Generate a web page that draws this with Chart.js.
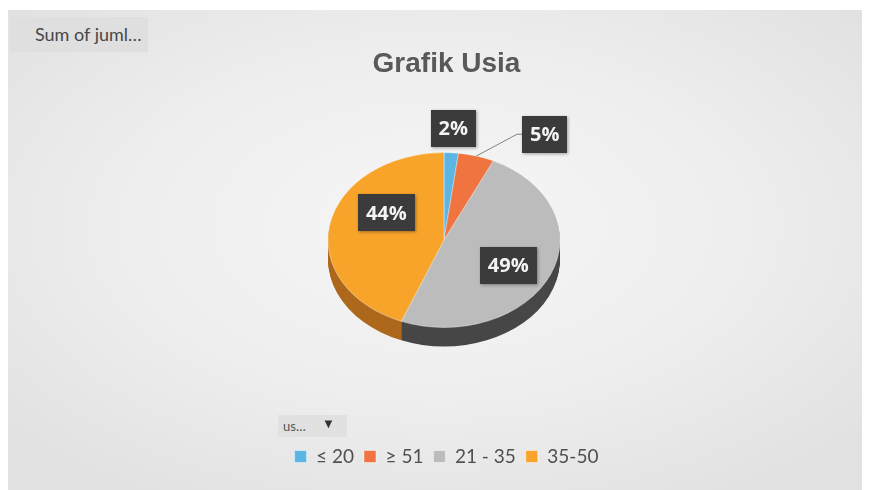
<!DOCTYPE html>
<html>
<head>
<meta charset="utf-8">
<script src="https://cdn.jsdelivr.net/npm/chart.js@4.4.1/dist/chart.umd.min.js"></script>
<style>
  html, body { margin: 0; padding: 0; background: #fff; }
  body { width: 869px; height: 490px; position: relative; overflow: hidden; font-family: Lato, sans-serif; }
  .panel {
    position: absolute; left: 8px; top: 10px; width: 854px; height: 480px;
    background: radial-gradient(ellipse 65% 65% at 50% 45%, #f6f6f6 0%, #eeeeee 55%, #e2e2e2 100%);
  }
  #chart { position: absolute; left: 0; top: 0; }
  .field-btn {
    position: absolute; left: 10px; top: 17px; width: 138px; height: 35px;
    background: #dfdfdf; color: #474747; font-size: 18px; line-height: 35px;
    padding-left: 25px; box-sizing: border-box;
  }
  .axis-btn {
    position: absolute; left: 278px; top: 415px; width: 69px; height: 22px;
    background: #e1e1e1; color: #555; font-size: 13px; line-height: 22px;
    padding-left: 5px; box-sizing: border-box;
  }
  .axis-btn span { position: absolute; left: 44px; top: -3px; font-size: 13px; color: #333; }
</style>
</head>
<body>
<div class="panel"></div>
<canvas id="chart" width="869" height="490"></canvas>
<div class="field-btn">Sum of juml…</div>
<div class="axis-btn">us…<span>▼</span></div>
<script>
const categories = ['≤ 20', '≥ 51', '21 - 35', '35-50'];
const jumlah = [2, 5, 49, 44];
const sliceColors = ['#5cb6e4', '#ef7440', '#bcbcbc', '#f8a42a'];
const sideColors = ['#3d86b0', '#b5532a', '#474747', '#ad681c'];

// fake 3D: squash the pie vertically and stack a darker rim under it
const tilt = 0.754;
const depth = 19;
const pieCenter = { x: 444, y: 240 };

// where each percentage box sits: f = fraction of radius along the slice middle
const labelPlacement = [
    { f: 1.28, dx: 0, dy: 0 },
    { f: 1.2, dx: 62, dy: -5, leader: true },
    { f: 0.65, dx: -5, dy: 3 },
    { f: 0.55, dx: 5, dy: -18 }
];

function applyTilt(ctx, arc, drop) {
    ctx.translate(pieCenter.x, pieCenter.y + drop);
    ctx.scale(1, tilt);
    ctx.translate(-arc.x, -arc.y);
}

function project(arc, angle, r) {
    return {
        x: pieCenter.x + Math.cos(angle) * r,
        y: pieCenter.y + Math.sin(angle) * r * tilt
    };
}

const tiltPlugin = {
    id: 'tilt3d',
    beforeDatasetsDraw(chart) {
        const ctx = chart.ctx;
        const arcs = chart.getDatasetMeta(0).data;
        const c = arcs[0];
        for (let d = depth; d >= 1; d--) {
            ctx.save();
            applyTilt(ctx, c, d);
            arcs.forEach((a, i) => {
                ctx.beginPath();
                ctx.moveTo(a.x, a.y);
                ctx.arc(a.x, a.y, a.outerRadius, a.startAngle, a.endAngle);
                ctx.closePath();
                ctx.fillStyle = sideColors[i];
                ctx.fill();
            });
            ctx.restore();
        }
        ctx.save();
        applyTilt(ctx, c, 0);
    },
    afterDatasetsDraw(chart) {
        const ctx = chart.ctx;
        ctx.restore();

        const arcs = chart.getDatasetMeta(0).data;
        const total = jumlah.reduce((a, b) => a + b, 0);
        arcs.forEach((a, i) => {
            const p = labelPlacement[i];
            const mid = (a.startAngle + a.endAngle) / 2;
            const anchor = project(a, mid, a.outerRadius * p.f);
            const cx = anchor.x + p.dx;
            const cy = anchor.y + p.dy;
            const text = Math.round(jumlah[i] / total * 100) + '%';

            ctx.save();
            ctx.font = 'bold 20px "Open Sans"';
            const w = ctx.measureText(text).width + 16;
            const h = 37;

            if (p.leader) {
                const rim = project(a, mid, a.outerRadius);
                ctx.beginPath();
                ctx.moveTo(rim.x, rim.y);
                ctx.lineTo(cx - w / 2 - 5, cy);
                ctx.lineTo(cx - w / 2, cy);
                ctx.strokeStyle = '#808080';
                ctx.lineWidth = 1;
                ctx.stroke();
            }

            ctx.shadowColor = 'rgba(0,0,0,0.35)';
            ctx.shadowBlur = 3;
            ctx.shadowOffsetX = 1;
            ctx.shadowOffsetY = 1;
            ctx.fillStyle = '#3b3b3b';
            ctx.fillRect(Math.round(cx - w / 2), Math.round(cy - h / 2), Math.round(w), h);
            ctx.shadowColor = 'transparent';

            ctx.fillStyle = '#f4f4f4';
            ctx.textAlign = 'center';
            ctx.textBaseline = 'middle';
            ctx.fillText(text, cx, cy + 1);
            ctx.restore();
        });
    }
};

new Chart(document.getElementById('chart'), {
    type: 'pie',
    data: {
        labels: categories,
        datasets: [{
            data: jumlah,
            backgroundColor: sliceColors,
            borderColor: 'rgba(255,255,255,0.45)',
            borderWidth: 1,
            radius: 116
        }]
    },
    options: {
        responsive: false,
        animation: false,
        events: [],
        layout: { padding: { top: 10, left: 24, right: 0, bottom: 14 } },
        plugins: {
            title: {
                display: true,
                text: 'Grafik Usia',
                color: '#595959',
                font: { family: '"Liberation Sans", Arial, sans-serif', size: 28, weight: 'bold' },
                padding: { top: 37, bottom: 10 }
            },
            legend: {
                position: 'bottom',
                labels: {
                    boxWidth: 12,
                    boxHeight: 12,
                    padding: 10,
                    color: '#505050',
                    font: { family: 'Lato', size: 19 }
                }
            },
            tooltip: { enabled: false }
        }
    },
    plugins: [tiltPlugin]
});
</script>
</body>
</html>
